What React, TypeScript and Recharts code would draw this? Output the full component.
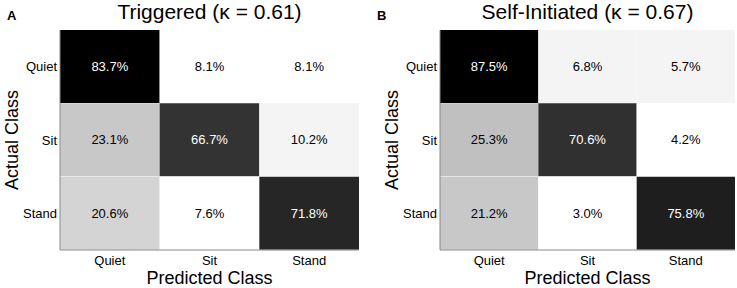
import React from 'react';
import { BarChart, Bar, XAxis, YAxis, Cell, LabelList } from 'recharts';

const actualClasses = ['Quiet', 'Sit', 'Stand'];
const predictedClasses = ['Quiet', 'Sit', 'Stand'];
const columnTicks = [0.5, 1.5, 2.5];

// percentages, one row per actual class
const triggeredPct = [
  [83.7, 8.1, 8.1],
  [23.1, 66.7, 10.2],
  [20.6, 7.6, 71.8],
];
const selfInitiatedPct = [
  [87.5, 6.8, 5.7],
  [25.3, 70.6, 4.2],
  [21.2, 3.0, 75.8],
];

// grey levels
const triggeredShade = [
  ['#000000', '#ffffff', '#ffffff'],
  ['#c8c8c8', '#333333', '#f4f4f4'],
  ['#d4d4d4', '#ffffff', '#262626'],
];
const selfInitiatedShade = [
  ['#000000', '#f4f4f4', '#f4f4f4'],
  ['#c0c0c0', '#303030', '#ffffff'],
  ['#c8c8c8', '#ffffff', '#1e1e1e'],
];

const FONT = 'Arial, "Liberation Sans", Helvetica, sans-serif';

const buildRows = (pct: number[][]) =>
  actualClasses.map((actual, r) => {
    const row: any = { actual };
    predictedClasses.forEach((p, c) => {
      row[p] = 1;
      row['pct_' + p] = pct[r][c];
    });
    return row;
  });

const isDark = (hex: string) => parseInt(hex.slice(1, 3), 16) < 128;

interface MatrixProps {
  letter: string;
  title: string;
  pct: number[][];
  shade: string[][];
  width: number;
  yAxisWidth: number;
  rightMargin: number;
}

const Matrix: React.FC<MatrixProps> = ({ letter, title, pct, shade, width, yAxisWidth, rightMargin }) => {
  const rows = buildRows(pct);
  const plotCenter = yAxisWidth + (width - yAxisWidth - rightMargin) / 2;
  return (
    <BarChart
      width={width}
      height={288}
      data={rows}
      layout="vertical"
      barCategoryGap={0}
      barGap={0}
      margin={{ top: 30, right: rightMargin, bottom: 0, left: 0 }}
    >
      <XAxis
        xAxisId="main"
        type="number"
        domain={[0, 3]}
        ticks={columnTicks}
        tickFormatter={(v: number) => predictedClasses[Math.floor(v)]}
        height={38}
        tickLine={false}
        tickSize={4}
        tickMargin={2}
        axisLine={{ stroke: '#8a8a8a' }}
        tick={{ fontSize: 13, fill: '#000', fontFamily: FONT }}
        interval={0}
      />
      <XAxis xAxisId="top" orientation="top" type="number" domain={[0, 3]} height={0} tick={false} tickLine={false} axisLine={{ stroke: '#8a8a8a' }} />
      <YAxis
        yAxisId="main"
        type="category"
        dataKey="actual"
        width={yAxisWidth}
        tickLine={false}
        tickSize={0}
        tickMargin={3}
        axisLine={{ stroke: '#8a8a8a' }}
        tick={{ fontSize: 13, fill: '#000', fontFamily: FONT }}
      />
      <YAxis yAxisId="right" orientation="right" type="category" dataKey="actual" width={0} tick={false} tickLine={false} axisLine={{ stroke: '#8a8a8a' }} />
      {predictedClasses.map((p, c) => (
        <Bar key={p} dataKey={p} stackId="m" xAxisId="main" yAxisId="main" isAnimationActive={false}>
          {rows.map((_, r) => (
            <Cell key={r} fill={shade[r][c]} />
          ))}
          <LabelList
            dataKey={'pct_' + p}
            content={(props: any) => {
              const { x, y, width: w, height: h, value, index } = props;
              return (
                <text
                  x={x + w / 2}
                  y={y + h / 2}
                  textAnchor="middle"
                  dominantBaseline="central"
                  fontSize={13}
                  fontFamily={FONT}
                  fill={isDark(shade[index][c]) ? '#ffffff' : '#000000'}
                >
                  {Number(value).toFixed(1) + '%'}
                </text>
              );
            }}
          />
        </Bar>
      ))}
      <text x={7} y={20} fontSize={13} fontWeight="bold" fontFamily={FONT} fill="#000">
        {letter}
      </text>
      <text x={plotCenter} y={19} fontSize={21} textAnchor="middle" fontFamily={FONT} fill="#000">
        {title}
      </text>
      <text
        x={yAxisWidth - 42}
        y={140}
        fontSize={18}
        textAnchor="middle"
        fontFamily={FONT}
        fill="#000"
        transform={`rotate(-90 ${yAxisWidth - 42} 140)`}
      >
        Actual Class
      </text>
      <text x={plotCenter} y={284} fontSize={18} textAnchor="middle" fontFamily={FONT} fill="#000">
        Predicted Class
      </text>
    </BarChart>
  );
};

export default function App() {
  return (
    <div style={{ position: 'absolute', left: 0, top: 0, width: 737, height: 288, background: '#fff', display: 'flex' }}>
      <Matrix
        letter="A"
        title="Triggered (κ = 0.61)"
        pct={triggeredPct}
        shade={triggeredShade}
        width={370}
        yAxisWidth={60}
        rightMargin={11}
      />
      <Matrix
        letter="B"
        title="Self-Initiated (κ = 0.67)"
        pct={selfInitiatedPct}
        shade={selfInitiatedShade}
        width={367}
        yAxisWidth={70}
        rightMargin={2}
      />
    </div>
  );
}
